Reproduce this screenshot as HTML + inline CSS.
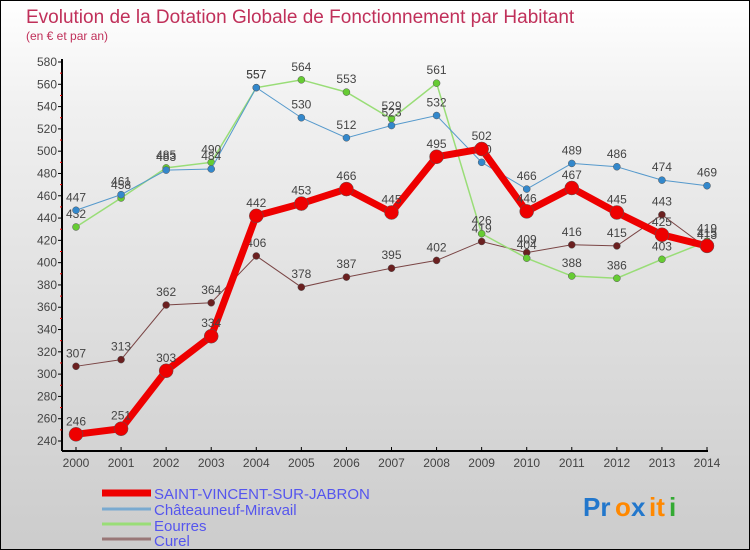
<!DOCTYPE html>
<html><head><meta charset="utf-8"><style>
body{margin:0}
#c{width:750px;height:550px;position:relative;box-sizing:border-box;border:1px solid #000;background:linear-gradient(#ffffff,#f0f0f0 20%,#d9d9d9 70%,#cccccc);font-family:"Liberation Sans",sans-serif;overflow:hidden}
svg text{font-family:"Liberation Sans",sans-serif}
</style></head><body>
<div id="c">
<svg width="750" height="550" id="s">
<text x="25" y="22" font-size="19" fill="#c0305a">Evolution de la Dotation Globale de Fonctionnement par Habitant</text>
<text x="25" y="39" font-size="12" fill="#c0305a">(en € et par an)</text>
<g id="axes"></g><g id="plot"></g>
<g>
<line x1="101" y1="492" x2="150" y2="492" stroke="#ee0000" stroke-width="7"/>
<text x="153" y="498" font-size="15" fill="#5555ee">SAINT-VINCENT-SUR-JABRON</text>
<line x1="101" y1="508" x2="150" y2="508" stroke="#7aaad0" stroke-width="3"/>
<text x="153" y="514" font-size="15" fill="#5555ee">Châteauneuf-Miravail</text>
<line x1="101" y1="523" x2="150" y2="523" stroke="#99dd77" stroke-width="3"/>
<text x="153" y="530" font-size="15" fill="#5555ee">Eourres</text>
<line x1="101" y1="538" x2="150" y2="538" stroke="#997777" stroke-width="3"/>
<text x="153" y="545" font-size="15" fill="#5555ee">Curel</text>
</g>
<g font-size="26" font-weight="bold">
<text x="582" y="515" fill="#2277cc">Pr</text><text x="614" y="515" fill="#ff8800">o</text><text x="630" y="515" fill="#2277cc">x</text><text x="648" y="515" fill="#ff8800">it</text><text x="668" y="515" fill="#33aa33">i</text>
</g>
</svg>
</div>
<script>
const years=["2000","2001","2002","2003","2004","2005","2006","2007","2008","2009","2010","2011","2012","2013","2014"];
const yTicks=[240,260,280,300,320,340,360,380,400,420,440,460,480,500,520,540,560,580];
const saintVincent=[246,251,303,334,442,453,466,445,495,502,446,467,445,425,415];
const chateauneuf=[447,461,483,484,557,530,512,523,532,490,466,489,486,474,469];
const eourres=[432,458,485,490,557,564,553,529,561,426,404,388,386,403,419];
const curel=[307,313,362,364,406,378,387,395,402,419,409,416,415,443,413];
const NS="http://www.w3.org/2000/svg";
const X=i=>75+i*(706-75)/(years.length-1);
const Y=v=>440-(v-240)*(440-61)/(580-240);
function mk(t,a,p){const e=document.createElementNS(NS,t);for(const k in a)e.setAttribute(k,a[k]);p.appendChild(e);return e;}
const ax=document.getElementById('axes'),pl=document.getElementById('plot');
let e=mk('line',{x1:61,y1:58,x2:61,y2:450,stroke:'#000','stroke-width':2},ax);


e=mk('line',{x1:61,y1:450,x2:707,y2:450,stroke:'#000','stroke-width':2},ax);


yTicks.forEach((v,i)=>{
  mk('line',{x1:57,y1:Y(v),x2:61,y2:Y(v),stroke:'#000'},ax);
  if(i<yTicks.length-1)mk('line',{x1:59,y1:Y(v+10),x2:61,y2:Y(v+10),stroke:'#e00'},ax);
  const t=mk('text',{x:56,y:Y(v)+4,'font-size':12,fill:'#444','text-anchor':'end'},ax);
  t.textContent=v;
  
  
});
years.forEach((y,i)=>{
  mk('line',{x1:X(i),y1:446,x2:X(i),y2:450,stroke:'#000'},ax);
  const t=mk('text',{x:X(i),y:466,'font-size':12,fill:'#444','text-anchor':'middle'},ax);
  t.textContent=y;
  
  
});
function series(data,name,color,dot,w,r){
  const g=mk('g',{},pl);
  
  
  mk('polyline',{points:data.map((v,i)=>X(i)+','+Y(v)).join(' '),fill:'none',stroke:color,'stroke-width':w},g);
  data.forEach((v,i)=>{
    const c=mk('circle',{cx:X(i),cy:Y(v),r:r,fill:dot,stroke:'#555','stroke-width':0.5},g);
    
    
    const t=mk('text',{x:X(i),y:Y(v)-9,'font-size':12,fill:'#444','text-anchor':'middle'},g);
    t.textContent=v;
    
    
  });
}
series(curel,'curel','#7a4545','#6b2020',1,3.5);
series(eourres,'eourres','#99dd77','#66cc33',1.5,3.5);
series(chateauneuf,'chateauneuf','#5599cc','#3388cc',1,3.5);
series(saintVincent,'saint-vincent','#ee0000','#ee0000',7,7);
</script>
</body></html>
